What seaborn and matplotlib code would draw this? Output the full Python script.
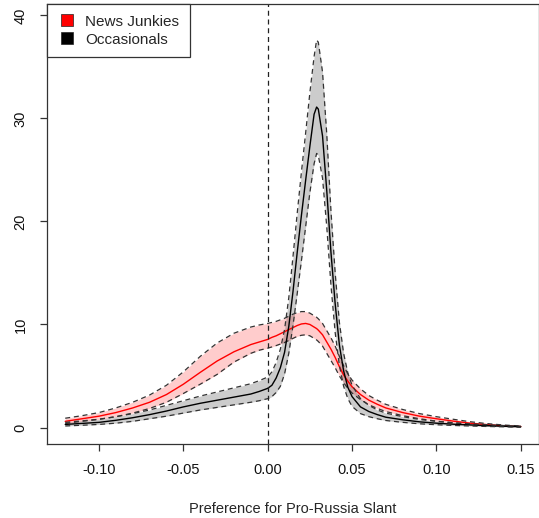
"""
density of preference for pro-Russia slant, news junkies vs occasionals,
with confidence bands (R base-graphics look)
"""

import matplotlib
matplotlib.use("Agg")
import matplotlib.pyplot as plt
from matplotlib.lines import Line2D
import seaborn as sns

# grid of slant values the densities were read at
slant = [-0.12, -0.11, -0.10, -0.09, -0.08, -0.07, -0.06, -0.05, -0.04,
         -0.03, -0.02, -0.01,
         -0.005, 0.0, 0.0025, 0.005, 0.0075, 0.01, 0.0125, 0.015, 0.0175,
         0.02, 0.0225, 0.025, 0.0275, 0.029, 0.03, 0.0325, 0.035, 0.0375,
         0.04, 0.0425, 0.045, 0.0475, 0.05,
         0.055, 0.06, 0.065, 0.07, 0.08, 0.09, 0.10, 0.11, 0.12, 0.13,
         0.14, 0.15]

# news junkies
junk_mean = [0.6, 0.85, 1.1, 1.45, 1.9, 2.45, 3.2, 4.2, 5.35, 6.45, 7.35,
             8.05, 8.3, 8.55, 8.75, 8.9, 9.1, 9.3, 9.5, 9.7, 9.9, 10.05, 10.1,
             10.0, 9.75, 9.6, 9.45, 9.0, 8.3, 7.6, 6.8, 5.9, 5.1, 4.5, 3.95,
             3.2, 2.65, 2.25, 1.9, 1.45, 1.1, 0.85, 0.62, 0.42, 0.28, 0.17,
             0.1]
junk_lo = [0.4, 0.6, 0.8, 1.05, 1.4, 1.85, 2.45, 3.3, 4.2, 5.15, 6.35, 7.2,
           7.5, 7.7, 7.82, 7.95, 8.1, 8.25, 8.45, 8.65, 8.85, 8.95, 9.0,
           8.9, 8.65, 8.5, 8.35, 7.9, 7.2, 6.5, 5.8, 5.0, 4.35, 3.8, 3.35,
           2.7, 2.2, 1.85, 1.55, 1.15, 0.85, 0.62, 0.45, 0.3, 0.18, 0.1,
           0.05]
junk_hi = [0.9, 1.15, 1.45, 1.9, 2.45, 3.15, 4.1, 5.4, 6.9, 8.2, 9.15,
           9.75, 9.95, 10.1, 10.2, 10.3, 10.45, 10.6, 10.8, 11.0, 11.15,
           11.25, 11.25, 11.1, 10.85, 10.7, 10.55, 10.1, 9.4, 8.7, 7.9, 6.9,
           6.0, 5.2, 4.6,
           3.75, 3.1, 2.65, 2.25, 1.75, 1.35, 1.05, 0.8, 0.56, 0.38, 0.24,
           0.15]

# occasionals
occ_mean = [0.3, 0.4, 0.5, 0.7, 0.95, 1.25, 1.6, 2.0, 2.35, 2.65, 2.95, 3.25,
            3.5, 3.8, 4.1, 4.8, 5.8, 7.3, 9.8, 13.2, 17.0, 20.6, 24.0, 27.3,
            30.4, 31.1, 30.9, 28.3, 23.0, 17.0, 12.0, 8.0, 5.5, 3.9, 3.0,
            2.0, 1.55, 1.25, 1.0, 0.75, 0.55, 0.42, 0.32, 0.25, 0.18, 0.12,
            0.08]
occ_lo = [0.15, 0.22, 0.3, 0.42, 0.6, 0.85, 1.1, 1.4, 1.7, 1.95, 2.2, 2.45,
          2.6, 2.8, 3.0, 3.4, 4.0, 5.2, 7.2, 9.9, 13.0, 16.2, 19.5, 22.8,
          25.6, 26.6, 26.4, 24.2, 19.5, 13.8, 9.2, 6.0, 4.0, 2.8, 2.05,
          1.35, 1.05, 0.85, 0.68, 0.5, 0.36, 0.27, 0.2, 0.15, 0.1, 0.07,
          0.04]
occ_hi = [0.5, 0.65, 0.8, 1.05, 1.35, 1.7, 2.15, 2.6, 3.05, 3.45, 3.85, 4.25,
          4.55, 4.9, 5.4, 6.3, 7.6, 9.5, 12.6, 16.6, 20.8, 24.8, 28.6, 32.5,
          36.0, 37.6, 37.4, 34.5, 28.5, 21.0, 15.0, 10.2, 7.2, 5.3, 4.1,
          2.8, 2.15, 1.7, 1.4, 1.05, 0.78, 0.6, 0.46, 0.36, 0.27, 0.19,
          0.13]

groups = ["News Junkies", "Occasionals"]
colors = ["#ff0000", "#000000"]

sns.set_theme(style="ticks")
plt.rcParams["font.family"] = ["Liberation Sans", "DejaVu Sans"]

fig = plt.figure(figsize=(5.39, 5.18), dpi=100)
ax = fig.add_axes([47 / 539, 74 / 518, 492 / 539, 440 / 518])

series = [(junk_mean, junk_lo, junk_hi), (occ_mean, occ_lo, occ_hi)]
dash = (0, (4, 3))
for (mean, lo, hi), col in zip(series, colors):
    ax.fill_between(slant, lo, hi, color=col, alpha=0.2, linewidth=0)
    sns.lineplot(x=slant, y=mean, color=col, lw=1, ax=ax)
    # dashed band edges
    sns.lineplot(x=slant, y=lo, color="#333333", lw=0.9,
                 linestyle=dash, ax=ax)
    sns.lineplot(x=slant, y=hi, color="#333333", lw=0.9,
                 linestyle=dash, ax=ax)

ax.axvline(0, color="#222222", lw=0.9, linestyle=dash)

ax.set_xlim(-0.1308, 0.1608)
ax.set_ylim(-1.6, 41.1)
ax.set_xticks([-0.10, -0.05, 0.0, 0.05, 0.10, 0.15])
ax.set_xticklabels(["-0.10", "-0.05", "0.00", "0.05", "0.10", "0.15"])
ax.set_yticks([0, 10, 20, 30, 40])
ax.set_yticklabels(["0", "10", "20", "30", "40"], rotation=90,
                   va="center")
ax.tick_params(axis="both", direction="out", length=5, width=0.9,
               color="#333333", labelsize=10.5, labelcolor="#111111",
               pad=9)
for side in ["left", "bottom", "top", "right"]:
    ax.spines[side].set_visible(True)
    ax.spines[side].set_color("#333333")
    ax.spines[side].set_linewidth(0.9)

ax.set_xlabel("Preference for Pro-Russia Slant", fontsize=10.5,
              labelpad=18)
ax.set_ylabel("")

handles = [Line2D([], [], marker="s", linestyle="none", markersize=8,
                  markerfacecolor=c, markeredgecolor="#222222",
                  markeredgewidth=0.5) for c in colors]
leg = ax.legend(handles, groups, loc="upper left", bbox_to_anchor=(0, 1),
                borderaxespad=0, fancybox=False, framealpha=1,
                edgecolor="#333333", fontsize=11, handletextpad=0.6,
                labelspacing=0.25, borderpad=0.7, handlelength=1.2)
leg.get_frame().set_linewidth(0.9)

fig.savefig("out.png", dpi=100)
